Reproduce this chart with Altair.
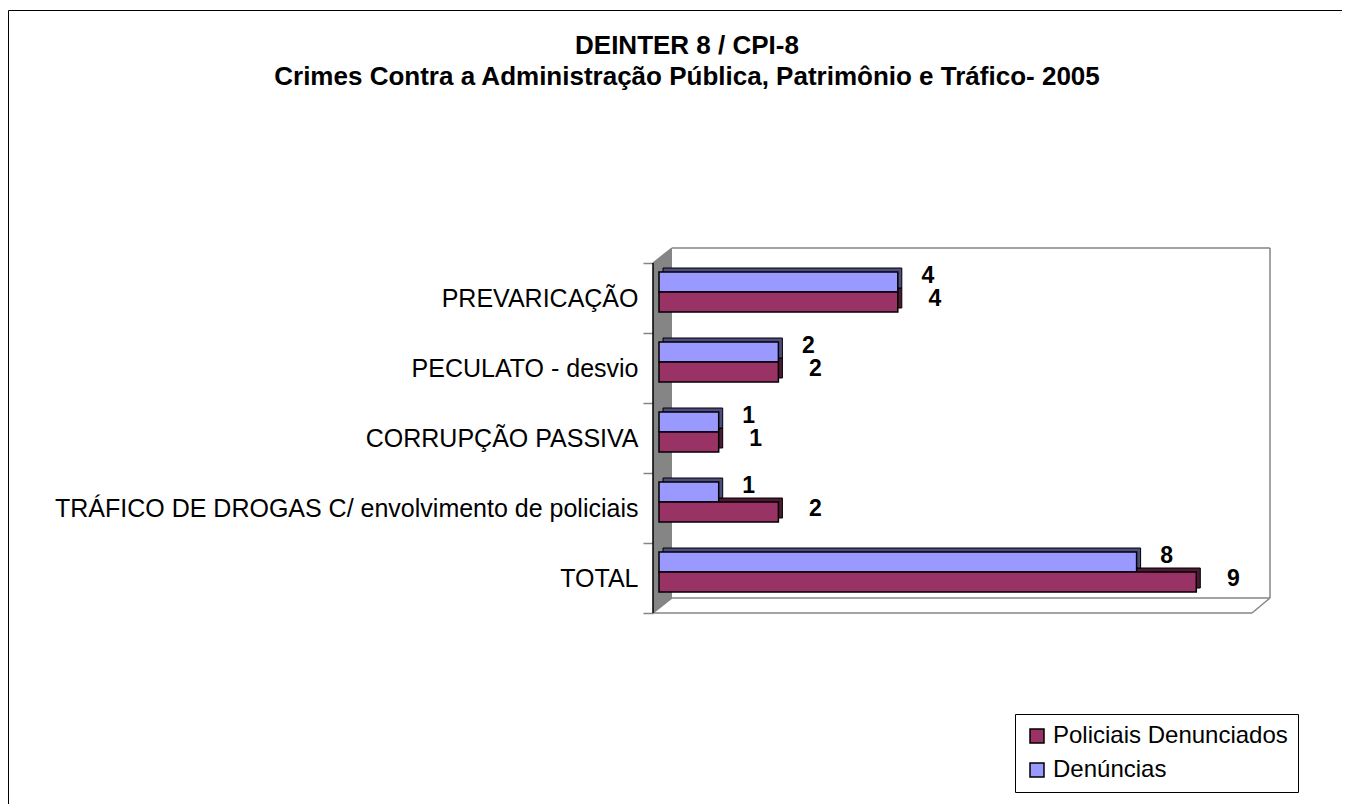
import altair as alt
import pandas as pd

# ---------------- data ----------------
categorias = [
    "PREVARICAÇÃO",
    "PECULATO - desvio",
    "CORRUPÇÃO PASSIVA",
    "TRÁFICO DE DROGAS C/ envolvimento de policiais",
    "TOTAL",
]
denuncias = [4, 2, 1, 1, 8]
policiais = [4, 2, 1, 2, 9]
series = ["Policiais Denunciados", "Denúncias"]
titulo = [
    "DEINTER 8 / CPI-8",
    "Crimes Contra a Administração Pública, Patrimônio e Tráfico- 2005",
]

df = pd.DataFrame({
    "categoria": categorias + categorias,
    "serie": [series[1]] * len(categorias) + [series[0]] * len(categorias),
    "valor": denuncias + policiais,
})

# ---------------- layout constants ----------------
W, H = 597, 350
BAR_H = 20
DEPTH = 4
FONT = "Liberation Sans"
C_POL, C_DEN = "#993366", "#9999FF"
C_POL_D, C_DEN_D = "#4D1A33", "#4D4D80"
GRAY = "#858585"

y_enc = alt.Y(
    "categoria:N",
    sort=categorias,
    scale=alt.Scale(paddingInner=0, paddingOuter=0),
    axis=alt.Axis(
        title=None, domain=False, ticks=True, tickBand="extent", tickSize=10,
        tickColor=GRAY, tickWidth=1.5, offset=6, labelPadding=5,
        labelFont=FONT, labelFontSize=25, labelColor="black", labelLimit=800,
        grid=False,
    ),
)
x_enc = alt.X("valor:Q", scale=alt.Scale(domain=[0, 10], nice=False), axis=None)

color_enc = alt.Color(
    "serie:N",
    scale=alt.Scale(domain=series, range=[C_POL, C_DEN]),
    legend=alt.Legend(
        title=None, orient="none", legendX=356, legendY=451,
        strokeColor="black", fillColor="white", padding=10, rowPadding=10,
        symbolType="square", symbolSize=196, symbolStrokeColor="black",
        symbolStrokeWidth=1.5, labelFont=FONT, labelFontSize=24,
        labelColor="black", labelOffset=4, labelLimit=500,
    ),
)

base = alt.Chart(df)


def serie_chart(s):
    return base.transform_filter(alt.datum.serie == s)


# offsets of each series' bar centre from the band centre
off = {series[1]: -16, series[0]: 4}

# 3D depth (top/side faces) drawn first
shadow_pol = serie_chart(series[0]).mark_bar(
    height=BAR_H, xOffset=DEPTH, yOffset=off[series[0]] - DEPTH,
    fill=C_POL_D, stroke="black", strokeWidth=1,
).encode(x=x_enc, y=y_enc)
shadow_den = serie_chart(series[1]).mark_bar(
    height=BAR_H, xOffset=DEPTH, yOffset=off[series[1]] - DEPTH,
    fill=C_DEN_D, stroke="black", strokeWidth=1,
).encode(x=x_enc, y=y_enc)

front_den = serie_chart(series[1]).mark_bar(
    height=BAR_H, yOffset=off[series[1]], stroke="black", strokeWidth=1.5,
).encode(x=x_enc, y=y_enc, color=color_enc)
front_pol = serie_chart(series[0]).mark_bar(
    height=BAR_H, yOffset=off[series[0]], stroke="black", strokeWidth=1.5,
).encode(x=x_enc, y=y_enc, color=color_enc)

lab_den = serie_chart(series[1]).mark_text(
    dx=30, dy=-22, font=FONT, fontSize=23, fontWeight="bold", color="black",
).encode(x=x_enc, y=y_enc, text="valor:Q")
lab_pol = serie_chart(series[0]).mark_text(
    dx=37, dy=1, font=FONT, fontSize=23, fontWeight="bold", color="black",
).encode(x=x_enc, y=y_enc, text="valor:Q")

# ---------------- chart furniture (3D walls) ----------------
wall_df = pd.DataFrame({"x": [-6, 13], "y": [0, -15], "y2": [H, H - 15]})
wall = alt.Chart(wall_df).mark_area(color=GRAY, orient="vertical").encode(
    x=alt.X("x:Q", scale=None),
    y=alt.Y("y:Q", scale=None),
    y2="y2:Q",
)

seg_df = pd.DataFrame({
    "x":  [13, 611, 13, 611, -6, -6, -6],
    "x2": [611, 611, 611, 593, 593, 13, 13],
    "y":  [-15, -15, H - 15, H - 15, H, 0, H],
    "y2": [-15, H - 15, H - 15, H, H, -15, H - 15],
})
frame = alt.Chart(seg_df).mark_rule(color=GRAY, strokeWidth=1.5).encode(
    x=alt.X("x:Q", scale=None), x2="x2:Q",
    y=alt.Y("y:Q", scale=None), y2="y2:Q",
)
wall_edge = alt.Chart(pd.DataFrame({"a": [0]})).mark_rule(
    color="black", strokeWidth=1.5
).encode(x=alt.value(-6), y=alt.value(0), y2=alt.value(H))

# outer chart border (left and top edges visible in the reference)
border = alt.Chart(pd.DataFrame({"a": [0]})).mark_rule(
    color="black", strokeWidth=1
)
border_l = border.encode(x=alt.value(-650.5), y=alt.value(-252.5), y2=alt.value(541))
border_t = border.encode(x=alt.value(-650.5), x2=alt.value(683), y=alt.value(-252.5))

# ---------------- title ----------------
t1 = alt.Chart(pd.DataFrame({"t": [titulo[0]]})).mark_text(
    font=FONT, fontSize=26, fontWeight="bold", color="black", align="center", baseline="middle"
).encode(x=alt.value(28), y=alt.value(-217), text="t:N")
t2 = alt.Chart(pd.DataFrame({"t": [titulo[1]]})).mark_text(
    font=FONT, fontSize=26, fontWeight="bold", color="black", align="center", baseline="middle"
).encode(x=alt.value(28), y=alt.value(-186), text="t:N")

chart = alt.layer(
    wall, frame, wall_edge,
    shadow_pol, shadow_den, front_den, front_pol,
    lab_den, lab_pol,
    t1, t2, border_l, border_t,
).properties(
    width=W, height=H,
    background="white",
    padding={"left": 651, "top": 255, "right": 86, "bottom": 191},
    autosize=alt.AutoSizeParams(type="none"),
).configure_view(stroke=None)

chart.save("out.html", embed_options={"renderer": "svg", "actions": False})
